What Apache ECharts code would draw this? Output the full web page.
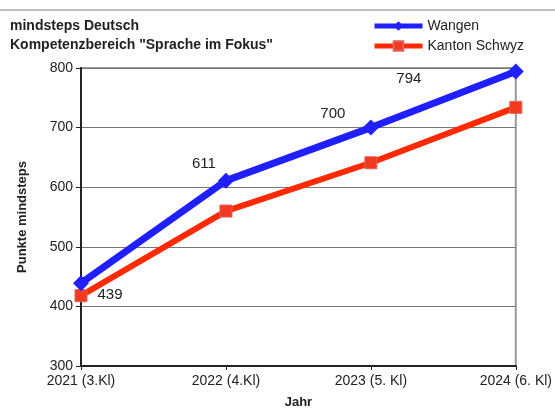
<!DOCTYPE html>
<html>
<head>
    <meta charset="utf-8">
    <script src="https://cdn.jsdelivr.net/npm/echarts@6/dist/echarts.min.js"></script>
    <style>
        body { margin: 0; background: #fff; }
        #chart_div { width: 555px; height: 414px; }
    </style>
</head>
<body>
    <div id="chart_div"></div>
    <script>
        // Daten
        const jahre = ['2021 (3.Kl)', '2022 (4.Kl)', '2023 (5. Kl)', '2024 (6. Kl)'];
        const wangen = [439, 611, 700, 794];
        const kantonSchwyz = [418, 560, 641, 734];
        const yTicks = [300, 400, 500, 600, 700, 800];

        // Position der Wertelabels (nur Darstellung)
        const labelOffsets = [[29, 12], [-22, -17], [-38, -14], [-107, 7]];

        const myChart = echarts.init(document.getElementById('chart_div'));
        const font = 'Arial, "Liberation Sans", sans-serif';

        const option = {
            backgroundColor: '#fff',
            textStyle: { fontFamily: font },
            animation: false,
            title: {
                text: 'mindsteps Deutsch\nKompetenzbereich "Sprache im Fokus"',
                left: 5,
                top: 12,
                textStyle: { fontSize: 14, fontWeight: 'bold', color: '#222', lineHeight: 19, fontFamily: font }
            },
            graphic: [{
                type: 'line',
                shape: { x1: 0, y1: 10, x2: 555, y2: 10 },
                style: { stroke: '#aaa', lineWidth: 1.5 }
            }],
            legend: {
                orient: 'vertical',
                left: 367,
                top: 14,
                itemWidth: 48,
                itemHeight: 12,
                itemGap: 6,
                lineStyle: { width: 5 },
                textStyle: { fontSize: 14, color: '#222', fontFamily: font },
                data: ['Wangen', 'Kanton Schwyz']
            },
            grid: {
                left: 81,
                right: 37,
                top: 68,
                bottom: 46,
                show: true,
                borderColor: '#999',
                borderWidth: 2
            },
            xAxis: {
                type: 'category',
                data: jahre,
                boundaryGap: false,
                name: 'Jahr',
                nameLocation: 'middle',
                nameGap: 30,
                nameTextStyle: { fontSize: 13, fontWeight: 'bold', color: '#222', fontFamily: font },
                axisLine: { lineStyle: { color: '#222', width: 2 } },
                axisTick: { show: true, length: 4, lineStyle: { color: '#222' } },
                axisLabel: { fontSize: 14, color: '#222', margin: 8 },
                splitLine: { show: false }
            },
            yAxis: {
                type: 'value',
                min: yTicks[0],
                max: yTicks[yTicks.length - 1],
                interval: 100,
                name: 'Punkte mindsteps',
                nameLocation: 'middle',
                nameGap: 52,
                nameTextStyle: { fontSize: 13, fontWeight: 'bold', color: '#222', fontFamily: font },
                axisLine: { show: true, lineStyle: { color: '#222', width: 2 } },
                axisTick: { show: true, length: 5, lineStyle: { color: '#222' } },
                axisLabel: { fontSize: 14, color: '#222', margin: 8 },
                splitLine: { lineStyle: { color: '#777', width: 1 } }
            },
            series: [
                {
                    name: 'Kanton Schwyz',
                    type: 'line',
                    data: kantonSchwyz,
                    symbol: 'rect',
                    symbolSize: 12,
                    z: 3,
                    lineStyle: { color: '#ff2a00', width: 6 },
                    itemStyle: { color: '#f23a1e', borderColor: '#e06060', borderWidth: 1 }
                },
                {
                    name: 'Wangen',
                    type: 'line',
                    data: wangen.map((v, i) => ({
                        value: v,
                        label: { offset: labelOffsets[i] }
                    })),
                    symbol: 'diamond',
                    symbolSize: 16,
                    z: 4,
                    lineStyle: { color: '#1f1fff', width: 7 },
                    itemStyle: { color: '#1f1fff' },
                    label: {
                        show: true,
                        position: 'inside',
                        fontSize: 15,
                        color: '#222',
                        fontFamily: font
                    }
                }
            ]
        };

        myChart.setOption(option);
    </script>
</body>
</html>
